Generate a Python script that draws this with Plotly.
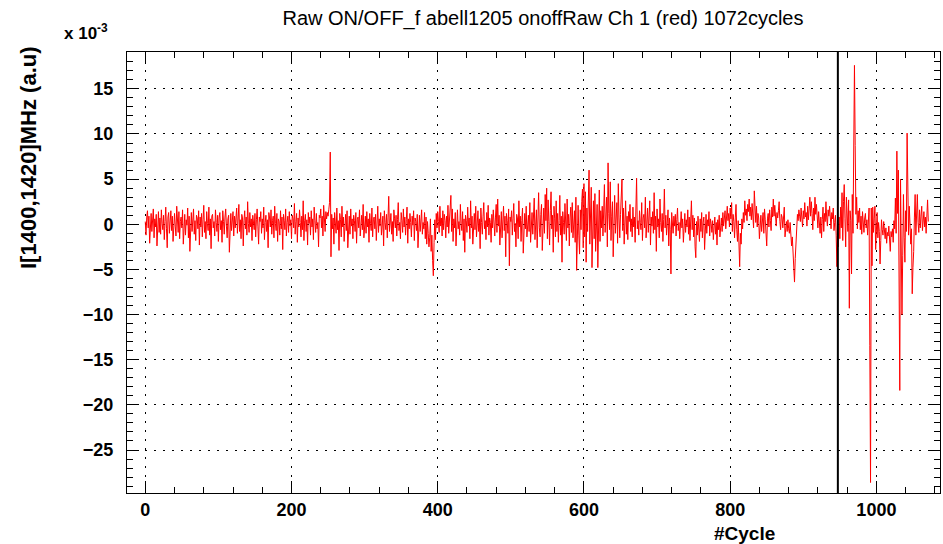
import plotly.graph_objects as go

# ---------------- data (values in units of 1e-3) ----------------
title_text = "Raw ON/OFF_f abell1205 onoffRaw Ch 1 (red) 1072cycles"
y_title = "I[1400,1420]MHz (a.u)"
x_title = "#Cycle"
marker_cycle = 947.3

seg_a = [  # cycles 0-249
    0.3,-1.2,0.8,1.5,-0.4,0.9,-2.1,0.5,1.2,-0.8,0.2,1.7,-1.5,0.6,-0.3,1.1,-2.4,0.4,1.4,-0.9,0.7,-1.1,1.6,0.1,-0.6,
    1.0,-1.7,0.3,1.9,-0.5,-2.6,0.8,1.3,-1.0,0.2,1.5,-0.7,0.9,-1.9,0.4,1.2,-0.2,-1.3,2.0,0.6,-0.9,1.4,-1.6,0.3,0.8,
    -0.4,1.6,-2.2,0.7,1.1,-1.2,0.5,-0.1,1.8,-1.5,0.9,-3.0,0.6,1.3,-0.8,0.2,1.7,-1.1,0.4,-1.8,1.0,0.7,-0.5,1.5,-2.3,
    0.8,-0.3,1.2,-1.4,0.5,2.1,-0.9,0.3,-1.6,1.4,0.1,-0.7,1.9,-1.2,0.6,-2.7,0.9,1.1,-0.4,0.3,-1.3,1.6,0.2,-0.8,1.0,
    -1.9,0.7,1.3,-0.6,0.4,-2.0,1.5,0.3,-1.1,0.8,1.7,-0.2,-1.5,0.6,1.0,-3.1,0.5,1.2,-0.7,0.2,1.4,-1.3,0.9,-0.4,0.6,
    1.8,-1.0,0.3,2.2,-0.8,0.5,-1.6,1.1,0.7,-2.4,0.4,1.5,-0.5,0.8,-1.2,2.5,0.1,-0.9,1.3,-0.3,0.6,-1.8,1.0,0.2,-0.6,
    1.2,-1.4,0.5,1.7,-0.2,-2.2,0.8,0.3,1.4,-1.0,0.6,-0.4,1.9,-1.7,0.2,1.0,-0.8,0.5,-2.6,1.3,0.7,-0.3,1.6,-1.1,0.4,
    0.9,-1.5,2.0,0.1,-0.7,1.2,-1.9,0.6,0.3,-1.2,1.5,-0.5,0.8,-2.8,1.1,0.4,-0.6,1.7,-1.3,0.2,0.9,-0.9,1.4,-0.2,0.5,
    -1.6,1.0,0.6,-0.4,2.3,-1.1,0.3,1.2,-2.0,0.7,-0.3,1.6,0.2,-1.4,0.9,-0.6,2.6,-1.8,0.4,1.1,-0.8,0.5,-2.3,1.3,0.1,
    0.8,-1.2,1.5,-0.3,0.6,-1.7,1.9,0.4,-0.9,1.2,-0.5,0.2,-2.5,1.0,0.7,1.7,-0.4,0.9,-1.3,2.1,0.3,-0.8,1.4,0.6,1.3,
]
seg_b = [  # cycles 250-499
    0.9,1.6,2.4,8.0,-3.6,1.1,-0.5,0.7,-2.2,1.3,0.2,-1.0,1.8,-0.6,0.4,-2.9,1.2,0.5,-1.4,2.0,-0.3,0.8,-1.9,0.6,1.1,
    -0.7,1.5,-2.6,0.3,0.9,-1.1,1.7,-0.2,0.6,-1.6,1.0,0.4,-0.8,1.3,-2.1,0.5,0.8,-0.4,1.6,-1.3,0.2,1.0,-0.6,2.2,-1.5,
    0.4,0.9,-1.0,1.4,-0.3,0.6,-2.0,1.2,0.1,-0.7,1.8,-1.4,0.5,0.8,-0.5,1.1,-1.8,0.3,2.0,-0.9,0.6,-0.2,1.3,-1.2,0.4,
    0.9,-2.4,1.5,0.2,-0.6,1.1,-1.5,0.7,3.1,-0.8,0.4,1.2,-1.1,0.3,-1.9,1.6,0.6,-0.4,1.0,-1.3,0.5,2.4,-0.7,0.2,-1.6,
    1.3,0.4,-0.9,1.7,-0.3,0.8,-1.2,0.5,1.9,-2.1,0.6,-0.5,1.2,0.2,-1.4,0.9,-0.1,1.5,-1.8,0.7,0.3,-0.7,1.1,-2.6,0.5,
    1.0,-0.8,0.4,1.6,-1.1,0.2,-0.5,1.3,-1.6,0.8,-2.2,0.3,-1.0,-2.5,-1.5,0.6,-3.0,-1.2,-4.0,-5.7,-2.0,0.5,-1.7,1.2,-0.4,
    1.4,0.3,-0.9,2.0,-0.2,0.7,-1.3,1.5,-0.6,1.1,0.4,-1.5,0.9,-0.3,2.1,-1.0,0.5,1.2,3.2,-0.8,1.7,-1.9,0.6,-0.4,1.3,
    -2.4,0.8,1.6,-0.5,0.3,-1.2,2.2,0.1,-0.7,1.4,-1.8,0.6,-3.1,1.0,0.4,-0.9,1.9,-0.2,0.7,-1.6,2.6,-0.4,0.9,-2.2,0.5,
    1.2,-0.6,2.0,-1.4,0.3,1.5,-0.8,0.6,-2.7,1.8,0.2,-1.1,0.9,2.4,-0.5,0.4,-1.7,1.3,-0.3,2.1,-1.2,0.7,0.2,-2.0,1.1,
    -0.4,1.6,0.5,-1.3,0.8,2.2,-0.9,2.8,-0.2,1.0,-2.3,0.6,1.4,-1.5,0.3,2.0,-0.7,0.9,-3.6,1.2,0.4,-1.0,1.7,-4.6,0.8,
]
seg_c = [  # cycles 500-749
    0.3,1.5,-1.2,0.6,2.3,-0.8,0.1,-2.5,1.1,0.7,-1.6,2.6,-0.3,0.9,-1.9,0.4,1.8,-3.2,0.6,1.2,-0.5,2.0,-1.4,0.3,1.0,
    -0.8,2.4,-2.0,0.5,1.3,-1.1,0.7,2.9,-1.7,0.2,1.6,-2.6,0.9,3.5,-0.4,-1.4,1.1,2.2,-2.9,0.6,1.8,-1.0,3.3,0.4,4.0,
    -1.6,2.7,0.3,-2.3,1.5,3.6,-0.5,1.0,-3.1,2.0,0.6,-1.4,2.6,-0.8,1.2,-2.0,0.4,3.2,-1.2,0.9,-4.2,1.4,0.2,-1.1,2.3,
    0.6,-1.8,2.8,-0.4,1.1,-2.4,0.7,1.9,-0.9,2.4,-1.5,0.3,1.5,-2.0,3.0,-5.1,0.8,2.1,-1.2,-3.3,1.6,-0.6,2.5,3.9,-2.6,
    4.5,-1.4,3.6,-4.2,1.8,-0.8,2.9,6.0,-2.2,1.2,4.1,-4.8,0.5,2.6,-1.6,3.4,-3.0,-1.0,2.2,-4.8,0.9,3.8,-1.9,1.5,-0.4,
    2.0,-1.3,0.6,4.4,-0.9,1.7,3.0,-2.5,6.8,1.2,-0.6,4.7,-1.8,0.9,2.5,-3.6,1.4,3.2,-1.0,0.3,2.4,-2.1,4.5,0.7,-1.5,
    1.1,3.0,5.0,-0.7,1.8,-2.2,0.5,2.6,-1.1,0.9,-1.7,1.4,0.3,2.2,-0.8,0.6,-1.4,1.9,-0.3,0.8,-2.0,1.2,5.1,-0.5,0.4,
    -1.2,1.5,0.2,-0.6,2.4,-1.8,0.7,1.1,-0.4,3.0,-1.5,0.5,1.8,-0.9,0.3,2.6,-2.3,0.8,-0.2,1.4,-1.0,3.5,-0.6,0.9,-3.0,
    1.7,-0.3,0.6,-1.5,2.8,0.2,-0.8,1.2,-1.9,0.5,3.9,-0.4,1.0,-1.2,0.4,1.6,-2.4,0.7,-0.6,-5.5,1.3,0.3,-1.0,0.9,-0.2,
    1.1,-1.3,0.5,1.8,-0.7,0.2,-1.6,0.9,1.4,-0.4,0.6,-2.0,0.3,1.2,-0.9,0.5,-0.3,1.6,-1.1,0.8,-1.8,0.4,2.6,-0.6,1.0,
]
seg_d = [  # cycles 750-949
    -1.4,0.7,-2.5,-3.7,0.3,-1.2,0.9,-0.5,-1.9,0.6,-0.8,1.3,-1.5,0.2,0.8,-2.8,-0.4,1.1,-1.0,0.5,-0.2,1.4,-1.3,0.6,0.1,
    -0.9,0.4,-1.7,-0.3,0.8,-1.1,0.2,-2.3,0.5,-0.6,1.0,-1.4,0.3,0.7,-0.8,1.3,-0.2,0.6,1.5,-0.5,0.9,2.0,0.4,1.2,-0.3,
    1.8,0.6,2.4,-0.8,1.1,0.3,-1.5,0.7,2.2,-0.6,-1.9,0.4,-2.8,-4.7,-1.0,-2.2,0.6,-0.5,1.3,0.2,2.6,1.0,1.7,0.4,2.2,
    1.4,2.8,0.9,1.9,0.5,2.3,1.1,-0.4,3.7,1.5,0.2,2.0,-0.3,1.2,0.7,-1.6,0.4,1.0,-0.8,0.3,1.3,-1.0,1.7,0.5,-0.5,
    -2.4,0.6,1.2,-0.3,1.6,0.4,-0.7,1.9,0.8,2.8,0.9,2.1,0.5,-0.2,1.3,0.7,1.5,2.5,0.3,-0.6,1.1,0.8,-0.4,0.6,1.9,
    -1.4,-0.6,0.3,-0.8,0.5,-0.5,-1.0,0.2,-1.2,-2.4,-1.4,-3.0,-4.6,-6.4,-3.8,-1.6,0.2,1.1,0.4,1.6,0.9,0.3,1.8,1.0,-0.3,
    1.5,0.6,2.4,0.8,1.3,-0.2,2.0,0.5,1.7,3.0,0.9,2.5,1.2,-0.6,1.8,0.4,3.0,1.1,2.2,0.3,-0.4,1.4,0.6,-1.0,0.8,
    -1.5,0.5,1.9,-0.8,1.2,0.3,2.5,0.7,-0.2,1.6,0.9,2.0,0.4,-0.5,1.3,0.6,1.8,-0.7,0.2,1.0,-1.2,-4.7,-1.0,-2.5,0.8,
]
seg_e = [  # cycles 950-1071
    -1.6,1.9,-0.4,3.5,-1.8,2.5,4.4,0.6,-2.5,3.0,1.2,-0.8,2.7,-9.3,1.5,0.4,-5.5,3.3,-1.0,9.0,17.6,8.7,1.1,3.0,-0.5,
    1.5,0.2,1.8,-0.6,0.9,-1.1,1.4,0.3,-0.9,0.7,1.2,-0.4,0.5,-1.2,0.9,1.8,-13.4,-28.6,1.8,-4.6,1.9,-0.9,0.6,2.0,-2.8,
    0.6,1.3,-1.5,0.2,-0.8,-4.4,-1.8,0.5,-0.6,-1.2,0.3,-1.0,-1.6,-0.4,-2.1,-0.9,-1.3,-0.2,-1.7,-3.0,-0.8,-1.4,-0.5,-2.0,0.4,
    -0.5,2.9,-1.0,8.1,1.2,6.0,-3.0,-18.4,5.0,-8.1,-10.0,-3.5,3.3,-1.5,-4.2,1.5,-0.8,10.1,0.5,-1.2,2.0,-0.6,-2.2,-0.5,-7.7,
    -4.8,-3.0,0.8,3.3,-1.2,1.5,3.3,0.2,-0.9,1.6,-0.4,0.9,2.0,-0.7,0.5,1.4,-0.3,0.8,-1.0,0.6,2.7,0.3,
]

values = seg_a + seg_b + seg_c + seg_d + seg_e
cycles = list(range(len(values)))

# ---------------- figure ----------------
W, H = 943, 544
L, R, T, B = 127, 3, 52, 51

FONT = "Liberation Sans, Arial, sans-serif"

fig = go.Figure()
fig.add_trace(go.Scatter(x=cycles, y=values, mode="lines",
                         line=dict(color="#ff0000", width=1), showlegend=False,
                         hoverinfo="skip"))

fig.add_shape(type="line", x0=marker_cycle, x1=marker_cycle, xref="x",
              y0=0, y1=1, yref="paper", line=dict(color="black", width=2))

axis_common = dict(
    ticks="inside", tickcolor="black", tickwidth=1,
    showline=True, linecolor="black", linewidth=1, mirror="allticks",
    showgrid=True, gridcolor="black", gridwidth=1, griddash="2px,7px",
    zeroline=False,
    tickfont=dict(family=FONT, size=18, color="black", weight="bold"),
)

fig.update_xaxes(range=[-25, 1087], tick0=0, dtick=200, ticklen=12,
                 minor=dict(dtick=40, ticklen=6, ticks="inside", tickcolor="black",
                            showgrid=False),
                 ticklabelstandoff=0,
                 **axis_common)
fig.update_yaxes(range=[-29.76, 19.08], tick0=0, dtick=5, ticklen=12,
                 minor=dict(dtick=1, ticklen=6, ticks="inside", tickcolor="black",
                            showgrid=False),
                 ticklabelstandoff=9,
                 **axis_common)

pw = W - L - R
ph = H - T - B


def px_x(p):
    return (p - L) / pw


def px_y(p):
    return (H - B - p) / ph


fig.update_layout(
    width=W, height=H,
    margin=dict(l=L, r=R, t=T, b=B),
    paper_bgcolor="white", plot_bgcolor="white",
    title=dict(text=title_text, x=543 / W, xanchor="center", xref="container",
               y=1 - 18 / H, yanchor="middle", yref="container",
               font=dict(family=FONT, size=20, color="black")),
    annotations=[
        dict(text=y_title, textangle=-90, xref="paper", yref="paper",
             x=px_x(28), y=px_y(158), xanchor="center", yanchor="middle",
             showarrow=False,
             font=dict(family=FONT, size=22, color="black", weight="bold")),
        dict(text=x_title, xref="paper", yref="paper",
             x=px_x(744), y=px_y(533), xanchor="center", yanchor="middle",
             showarrow=False,
             font=dict(family=FONT, size=19, color="black", weight="bold")),
        dict(text="x 10<sup>-3</sup>", xref="paper", yref="paper",
             x=px_x(86), y=px_y(32), xanchor="center", yanchor="middle",
             showarrow=False,
             font=dict(family=FONT, size=17, color="black", weight="bold")),
    ],
)

fig.write_html("out.html")
